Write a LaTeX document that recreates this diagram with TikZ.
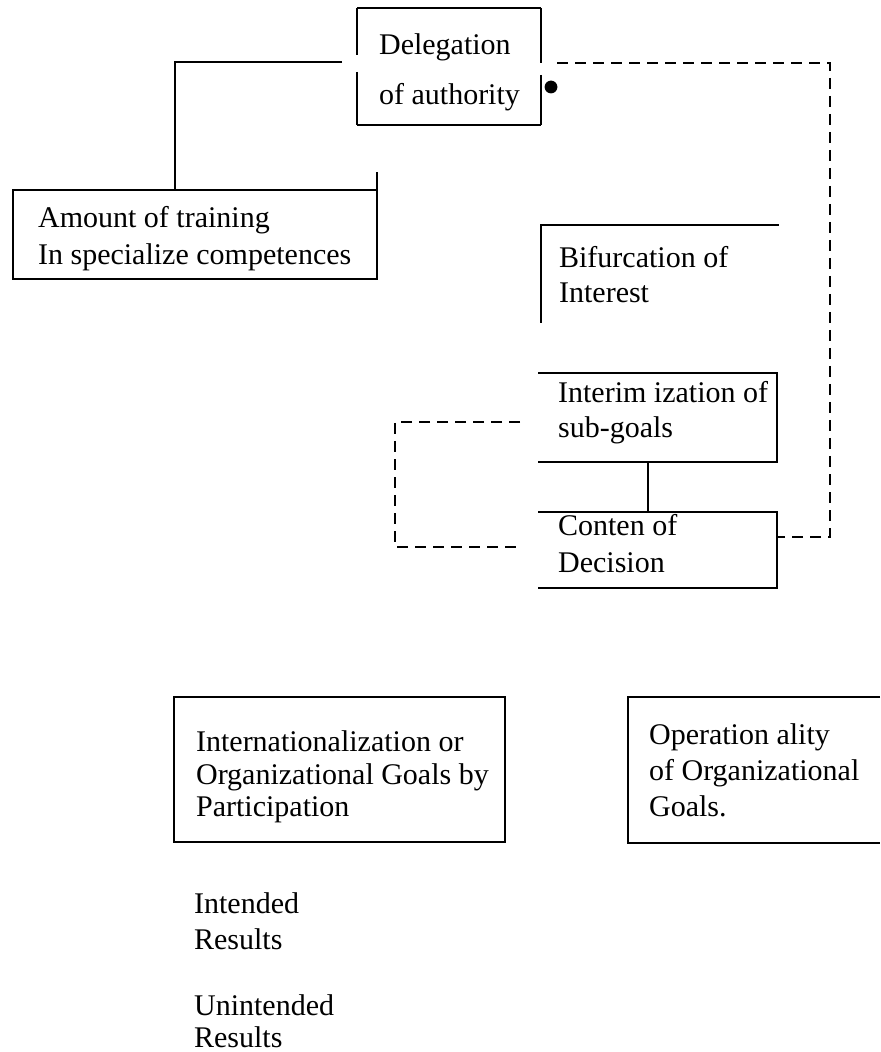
\documentclass[tikz,border=0pt]{standalone}
\usepackage{fontspec}
\setmainfont{Liberation Serif}
\usetikzlibrary{positioning}

\begin{document}
\begin{tikzpicture}[x=0.5pt,y=-0.5pt,line width=1.1pt]
  \def\fs{15}

\tikzstyle{frame}=[rectangle,anchor=north west,inner sep=0pt,outer sep=0pt]
\tikzstyle{words}=[inner sep=0pt,anchor=north west,align=left,font=\fontsize{\fs}{18}\selectfont]
\tikzstyle{dashline}=[dash pattern=on 5.5pt off 3.5pt]
\useasboundingbox (0,0) rectangle (880,1052);

\node[frame,minimum width=92pt,minimum height=58.5pt] (deleg) at (357,8) {};
\node[words] (deleg-t) at ([shift={(21,25)}]deleg.north west) {Delegation\\[7pt]of authority};
\draw (deleg.north west) -- (deleg.north east);
\draw (deleg.south west) -- (deleg.south east);
\draw (deleg.north west) -- ++(0,47);
\draw ([shift={(0,64)}]deleg.north west) -- (deleg.south west);
\draw (deleg.north east) -- ++(0,55);
\draw ([shift={(0,67)}]deleg.north east) -- (deleg.south east);
\fill ([shift={(10,79)}]deleg.north east) circle (3.2pt);

\node[frame,minimum width=182pt,minimum height=44.5pt] (train) at (13,190) {};
\node[words] (train-t) at ([shift={(24,15)}]train.north west) {Amount of training\\[0.5pt]In specialize competences};
\draw (train.north east) -- (train.north west) -- (train.south west) -- (train.south east) -- ([shift={(0,-18)}]train.north east);
\coordinate (a1) at ([shift={(-15,54)}]deleg.north west);
\draw (a1) -| ([shift={(162,0)}]train.north west);

\node[frame,minimum width=119pt,minimum height=49pt] (bifur) at (541,225) {};
\node[words] (bifur-t) at ([shift={(17,20)}]bifur.north west) {Bifurcation of\\[-0.5pt]Interest};
\draw (bifur.south west) -- (bifur.north west) -- (bifur.north east);

\node[frame,minimum width=119.5pt,minimum height=44.5pt] (interim) at (538,373) {};
\node[words] (interim-t) at ([shift={(19,7)}]interim.north west) {Interim ization of\\[-0.5pt]sub-goals};
\draw (interim.north west) -- (interim.north east) -- (interim.south east) -- (interim.south west);

\node[frame,minimum width=119.5pt,minimum height=38pt] (conten) at (538,512) {};
\node[words] (conten-t) at ([shift={(19,1)}]conten.north west) {Conten of\\[0.5pt]Decision};
\draw (conten.north west) -- (conten.north east) -- (conten.south east) -- (conten.south west);
\draw ([shift={(-9.5,0)}]interim.south) -- ([shift={(-9.5,0)}]conten.north);

\coordinate (d0) at ([shift={(16,55)}]deleg.north east);
\draw[dashline] (d0) -- ++(273,0) |- ([shift={(0,-13)}]conten.east);
\coordinate (b0) at ([shift={(-18,4.5)}]interim.west);
\coordinate (b1) at ([shift={(-18,-3)}]conten.west);
\draw[dashline] (b0) -- ++(-125,0) |- (b1);

\node[frame,draw,minimum width=165.5pt,minimum height=72.5pt] (intern) at (174,697) {};
\node[words] (intern-t) at ([shift={(21,33)}]intern.north west) {Internationalization or\\[-1.75pt]Organizational Goals by\\[-1.75pt]Participation};

\node[frame,minimum width=126pt,minimum height=73pt] (oper) at (628,697) {};
\node[words] (oper-t) at ([shift={(20,26)}]oper.north west) {Operation ality\\of Organizational\\Goals.};
\draw (oper.north east) -- (oper.north west) -- (oper.south west) -- (oper.south east);

\node[words] (intend) at (193,892) {Intended\\Results};
\node[words,below=21pt of intend.south west,anchor=north west] (unintend) {Unintended\\[-2pt]Results};
\end{tikzpicture}
\end{document}
